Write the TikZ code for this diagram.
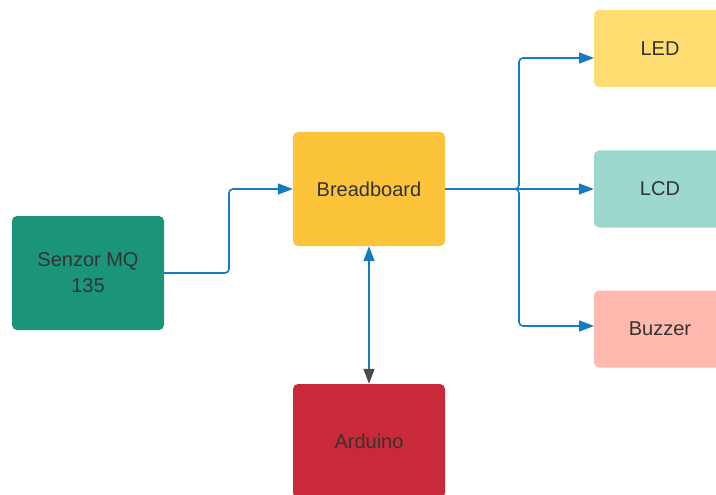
\documentclass[tikz,border=0pt]{standalone}
\usepackage{fontspec}
\setmainfont{Liberation Sans}
\usetikzlibrary{arrows.meta,positioning}
\definecolor{sensorc}{HTML}{1A957A}
\definecolor{boardc}{HTML}{FBC43B}
\definecolor{arduc}{HTML}{C92A39}
\definecolor{ledc}{HTML}{FFDD71}
\definecolor{lcdc}{HTML}{9DD8CC}
\definecolor{buzzc}{HTML}{FFB9AE}
\definecolor{wirec}{HTML}{167BBE}
\definecolor{textc}{HTML}{333333}
\tikzset{
  box/.style={rounded corners=5pt,minimum width=152pt,minimum height=114pt,
    align=center,text=textc,font=\fontsize{20}{26}\selectfont},
  outbox/.style={box,minimum width=132pt,minimum height=77pt},
  wire/.style={draw=wirec,line width=1.6pt,rounded corners=4pt,
    -{Triangle[length=15pt,width=11pt]}}
}
\begin{document}
\begin{tikzpicture}[x=1pt,y=-1pt]
    \useasboundingbox (0,0) rectangle (716,495);
    \node[box,fill=sensorc] (sensor) at (88,273) {Senzor MQ\\135};
    \node[box,fill=boardc] (board) at (369,189) {Breadboard};
    \node[box,fill=arduc] (ardu) at (369,441) {Arduino};
    \foreach \n/\y/\c/\t in {led/48.5/ledc/LED,lcd/189/lcdc/LCD,buzz/329/buzzc/Buzzer}{
      \node[outbox,fill=\c] (\n) at (660,\y) {\t};
    }
    \coordinate (split) at (519,189);
    \coordinate (ledin) at (594,58);
    \coordinate (buzzin) at (594,326);
    \draw[wire] (sensor.east) -- (229,273) |- (board.west);
    \draw[wire] (board.east) -- (split) |- (ledin);
    \draw[wire] (board.east) -- (split) |- (buzzin);
    \draw[wire] (board.east) -- (lcd.west);
    \draw[draw=wirec,line width=1.6pt,
      {Triangle[length=15pt,width=11pt]}-{Triangle[length=15pt,width=11pt,color=black!70]}]
      (board.south) -- (ardu.north);
\end{tikzpicture}
\end{document}
